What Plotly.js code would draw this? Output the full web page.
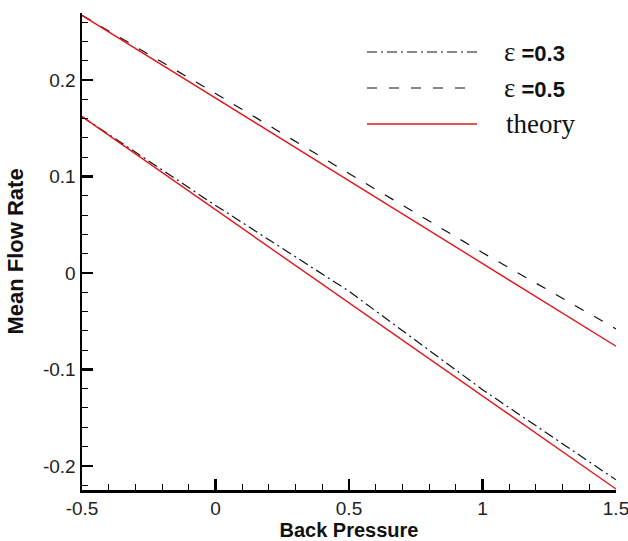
<!DOCTYPE html>
<html>
<head>
<meta charset="utf-8">
<script src="https://cdn.plot.ly/plotly-3.0.1.min.js"></script>
<style>html,body{margin:0;padding:0;background:#fff;}#chart{width:628px;height:541px;}</style>
</head>
<body>
<div id="chart"></div>
<script>
// Data
const backPressure = [-0.5, 0, 0.5, 1, 1.5];
const eps03 = [0.162, 0.070, -0.019, -0.121, -0.2145];
const eps05 = [0.267, 0.186, 0.103, 0.021, -0.058];
const theoryUpperX = [-0.5, 1.5];
const theoryUpper = [0.267, -0.076];
const theoryLowerX = [-0.5, 1.5];
const theoryLower = [0.162, -0.224];

const xTickVals = [-0.5, 0, 0.5, 1, 1.5];
const xTickText = ['-0.5', '0', '0.5', '1', '1.5'];
const yTickVals = [0.2, 0.1, 0, -0.1, -0.2];
const yTickText = ['0.2', '0.1', '0', '-0.1', '-0.2'];

const legendNames = ['=0.3', '=0.5', 'theory'];

const red = '#e3141b';
const dashdot = '10px,4px,2px,4px';
const dashed = '10px,12px';

const traces = [
  {x: backPressure, y: eps03, mode: 'lines', line: {color: '#111', width: 1.2, dash: dashdot}, showlegend: false},
  {x: backPressure, y: eps05, mode: 'lines', line: {color: '#111', width: 1.2, dash: dashed}, showlegend: false},
  {x: theoryUpperX, y: theoryUpper, mode: 'lines', line: {color: red, width: 1.4}, showlegend: false},
  {x: theoryLowerX, y: theoryLower, mode: 'lines', line: {color: red, width: 1.4}, showlegend: false}
];

const axisCommon = {
  showgrid: false, zeroline: false, showline: true, linecolor: '#000', linewidth: 2.5,
  ticks: 'inside', ticklen: 11, tickwidth: 2.5, tickcolor: '#000',
  tickfont: {family: 'Liberation Sans, Arial, sans-serif', size: 19, color: '#222'},
  ticklabeloverflow: 'allow',
  mirror: false
};

// legend sample positions in paper coords (plot area 82..616 x, 13..490 y)
function px(x) { return (x - 82) / (616 - 82); }
function py(y) { return (490 - y) / (490 - 13); }

const legendRows = [52, 88, 124];
const shapes = [
  {type: 'line', xref: 'paper', yref: 'paper', x0: px(367), x1: px(477), y0: py(legendRows[0]), y1: py(legendRows[0]), line: {color: '#111', width: 1.2, dash: dashdot}},
  {type: 'line', xref: 'paper', yref: 'paper', x0: px(367), x1: px(477), y0: py(legendRows[1]), y1: py(legendRows[1]), line: {color: '#111', width: 1.2, dash: dashed}},
  {type: 'line', xref: 'paper', yref: 'paper', x0: px(367), x1: px(477), y0: py(legendRows[2]), y1: py(legendRows[2]), line: {color: red, width: 1.4}}
];
const epsSpan = '<span style="font-family:Liberation Serif;font-size:27px">ε</span> ';
const annotations = [
  {xref: 'paper', yref: 'paper', x: px(502), y: py(legendRows[0]), xanchor: 'left', yanchor: 'middle', showarrow: false,
   text: epsSpan + '<b>' + legendNames[0] + '</b>', font: {family: 'Liberation Sans, Arial', size: 22, color: '#111'}},
  {xref: 'paper', yref: 'paper', x: px(502), y: py(legendRows[1]), xanchor: 'left', yanchor: 'middle', showarrow: false,
   text: epsSpan + '<b>' + legendNames[1] + '</b>', font: {family: 'Liberation Sans, Arial', size: 22, color: '#111'}},
  {xref: 'paper', yref: 'paper', x: px(504), y: py(legendRows[2]), xanchor: 'left', yanchor: 'middle', showarrow: false,
   text: legendNames[2], font: {family: 'Liberation Serif, Times New Roman, serif', size: 27, color: '#111'}}
];

const layout = {
  width: 628, height: 541,
  margin: {l: 82, r: 12, t: 13, b: 51},
  paper_bgcolor: '#fff', plot_bgcolor: '#fff',
  showlegend: false,
  xaxis: Object.assign({}, axisCommon, {
    range: [-0.5, 1.5], tickvals: xTickVals, ticktext: xTickText,
    minor: {dtick: 0.1, tick0: -0.5, ticks: 'inside', ticklen: 6, tickwidth: 1, tickcolor: '#000'},
    title: {text: '<b>Back Pressure</b>', font: {family: 'Liberation Sans, Arial', size: 20, color: '#111'}, standoff: 2}
  }),
  yaxis: Object.assign({}, axisCommon, {
    range: [-0.225, 0.2694], tickvals: yTickVals, ticktext: yTickText,
    minor: {dtick: 0.02, tick0: 0, ticks: 'inside', ticklen: 6, tickwidth: 1, tickcolor: '#000'},
    title: {text: '<b>Mean Flow Rate</b>', font: {family: 'Liberation Sans, Arial', size: 22, color: '#111'}, standoff: 14}
  }),
  shapes: shapes,
  annotations: annotations
};

Plotly.newPlot('chart', traces, layout, {displayModeBar: false, staticPlot: true});
</script>
</body>
</html>
